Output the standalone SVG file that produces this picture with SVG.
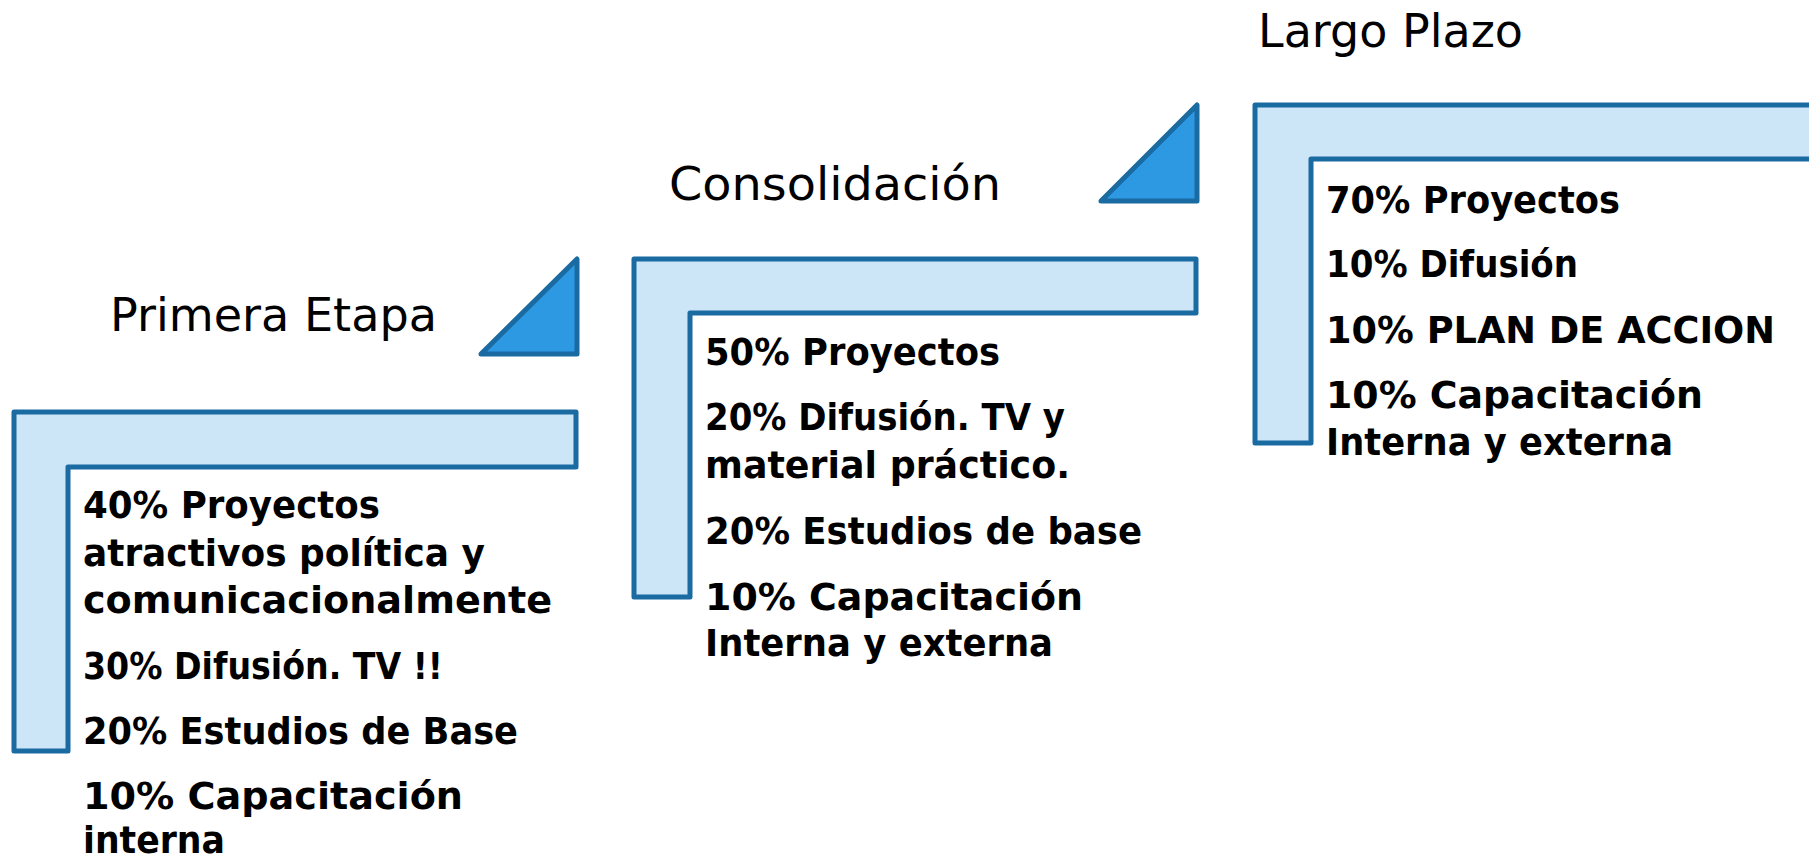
<svg xmlns="http://www.w3.org/2000/svg" width="1809" height="858" viewBox="0 0 1809 858">
<style>
.bar{fill:#CCE5F7;stroke:#1B6BA3;stroke-width:5;stroke-linejoin:round}
.tri{fill:#2E99E3;stroke:#1B6BA3;stroke-width:5;stroke-linejoin:round}
.title{font-family:"DejaVu Sans","Liberation Sans",sans-serif;font-size:46px;fill:#000;font-weight:normal}
.item{font-family:"DejaVu Sans","Liberation Sans",sans-serif;font-size:38px;font-weight:bold;fill:#000}
</style>
<rect width="1809" height="858" fill="#fff"/>
<g id="stage1">
<path class="bar" d="M14,412 H576 V467 H68 V751 H14 Z"/>
<text class="title" x="110" y="331" textLength="327" lengthAdjust="spacingAndGlyphs">Primera Etapa</text>
<text class="item" x="83" y="518" textLength="297" lengthAdjust="spacingAndGlyphs">40% Proyectos</text>
<text class="item" x="83" y="566" textLength="402" lengthAdjust="spacingAndGlyphs">atractivos política y</text>
<text class="item" x="83" y="613" textLength="469" lengthAdjust="spacingAndGlyphs">comunicacionalmente</text>
<text class="item" x="83" y="679" textLength="360" lengthAdjust="spacingAndGlyphs">30% Difusión. TV !!</text>
<text class="item" x="83" y="744" textLength="435" lengthAdjust="spacingAndGlyphs">20% Estudios de Base</text>
<text class="item" x="83" y="809" textLength="380" lengthAdjust="spacingAndGlyphs">10% Capacitación</text>
<text class="item" x="83" y="853" textLength="142" lengthAdjust="spacingAndGlyphs">interna</text>
</g>
<g id="arrow1"><path class="tri" d="M481,354 L577,259 L577,354 Z"/></g>
<g id="stage2">
<path class="bar" d="M634,259 H1196 V313 H690 V597 H634 Z"/>
<text class="title" x="669" y="200" textLength="332" lengthAdjust="spacingAndGlyphs">Consolidación</text>
<text class="item" x="705" y="365" textLength="295" lengthAdjust="spacingAndGlyphs">50% Proyectos</text>
<text class="item" x="705" y="430" textLength="360" lengthAdjust="spacingAndGlyphs">20% Difusión. TV y</text>
<text class="item" x="705" y="478" textLength="365" lengthAdjust="spacingAndGlyphs">material práctico.</text>
<text class="item" x="705" y="544" textLength="437" lengthAdjust="spacingAndGlyphs">20% Estudios de base</text>
<text class="item" x="705" y="610" textLength="378" lengthAdjust="spacingAndGlyphs">10% Capacitación</text>
<text class="item" x="705" y="656" textLength="348" lengthAdjust="spacingAndGlyphs">Interna y externa</text>
</g>
<g id="arrow2"><path class="tri" d="M1101,201 L1197,105 L1197,201 Z"/></g>
<g id="stage3">
<path class="bar" d="M1255,105 H1830 V159 H1311 V443 H1255 Z"/>
<text class="title" x="1258" y="47" textLength="265" lengthAdjust="spacingAndGlyphs">Largo Plazo</text>
<text class="item" x="1326" y="213" textLength="294" lengthAdjust="spacingAndGlyphs">70% Proyectos</text>
<text class="item" x="1326" y="277" textLength="252" lengthAdjust="spacingAndGlyphs">10% Difusión</text>
<text class="item" x="1326" y="343" textLength="449" lengthAdjust="spacingAndGlyphs">10% PLAN DE ACCION</text>
<text class="item" x="1326" y="408" textLength="377" lengthAdjust="spacingAndGlyphs">10% Capacitación</text>
<text class="item" x="1326" y="455" textLength="347" lengthAdjust="spacingAndGlyphs">Interna y externa</text>
</g>
<g id="connectors"></g>
</svg>
